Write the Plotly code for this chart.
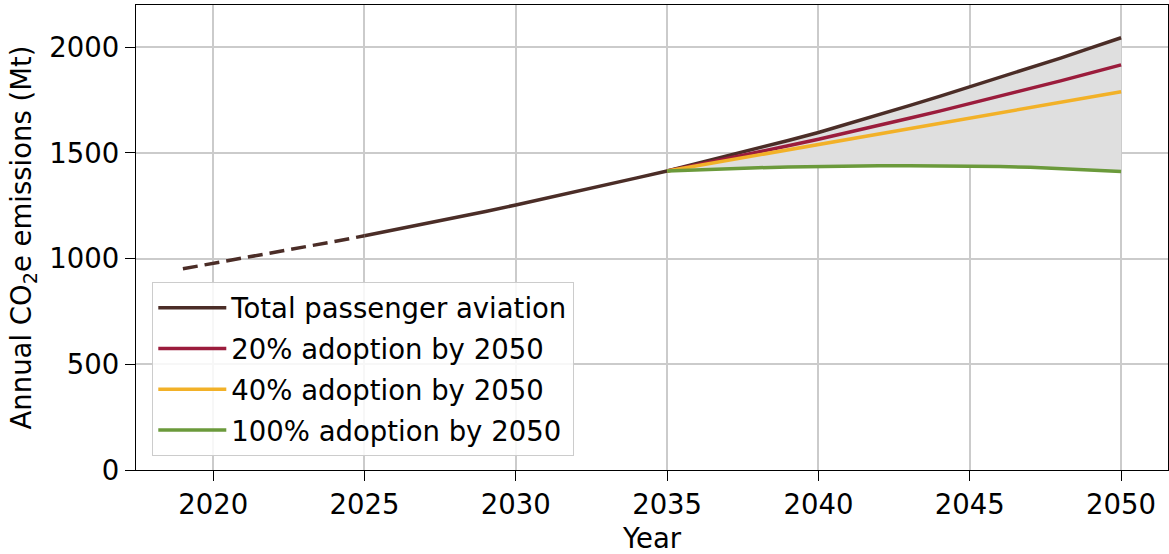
import plotly.graph_objects as go

# ---- data ----
hist_years = [2019, 2020, 2021, 2022, 2023, 2024, 2025]
hist_total = [952, 977, 1002, 1028, 1054, 1081, 1108]

proj_years = list(range(2025, 2051))
proj_total = [1108, 1136, 1164, 1193, 1223, 1254, 1285, 1317, 1349, 1382,
              1415, 1450, 1486, 1522, 1559, 1597, 1638, 1680, 1724, 1768,
              1813, 1857, 1902, 1949, 1997, 2045]

scen_years = list(range(2035, 2051))
adopt20 = [1415, 1444, 1473, 1503, 1534, 1565, 1597, 1630, 1664, 1698,
           1733, 1768, 1804, 1841, 1879, 1917]
adopt40 = [1415, 1440, 1465, 1490, 1515, 1540, 1565, 1590, 1615, 1640,
           1665, 1690, 1715, 1740, 1765, 1790]
adopt100 = [1415, 1421, 1426, 1430, 1433, 1436, 1438, 1439, 1440, 1440,
            1439, 1436, 1432, 1426, 1420, 1412]

labels = ["Total passenger aviation", "20% adoption by 2050",
          "40% adoption by 2050", "100% adoption by 2050"]
colors = ["#4b2d27", "#9b1c3c", "#f2b128", "#6b9a3b"]
x_ticks = [2020, 2025, 2030, 2035, 2040, 2045, 2050]
y_ticks = [0, 500, 1000, 1500, 2000]

FONT = "DejaVu Sans"
FS = 27.5
LW = 3.5

fig = go.Figure()

# shaded band between total and 100% adoption
total_tail = proj_total[proj_years.index(2035):]
fig.add_trace(go.Scatter(x=scen_years, y=adopt100, mode="lines",
                         line=dict(width=0, color="rgba(0,0,0,0)"),
                         showlegend=False, hoverinfo="skip"))
fig.add_trace(go.Scatter(x=scen_years, y=total_tail, mode="lines",
                         line=dict(width=0, color="rgba(0,0,0,0)"),
                         fill="tonexty", fillcolor="#dfdfdf",
                         showlegend=False, hoverinfo="skip"))

# dashed history
fig.add_trace(go.Scatter(x=hist_years, y=hist_total, mode="lines",
                         line=dict(color=colors[0], width=LW, dash="15px,7px"),
                         showlegend=False))

series = [(proj_years, proj_total), (scen_years, adopt20),
          (scen_years, adopt40), (scen_years, adopt100)]
for i, ((xs, ys), lab, col) in enumerate(zip(series, labels, colors)):
    fig.add_trace(go.Scatter(x=xs, y=ys, mode="lines", name=lab,
                             line=dict(color=col, width=LW),
                             legendgroup=f"g{i}"))

axis_common = dict(
    showline=True, linecolor="black", linewidth=1.3, mirror=True,
    ticks="outside", ticklen=10, tickwidth=1.3, tickcolor="black",
    showgrid=True, gridcolor="#cbcbcb", gridwidth=1.5,
    zeroline=False,
    tickfont=dict(family=FONT, size=FS, color="black"),
)

fig.update_xaxes(range=[2017.45, 2051.55], tickvals=x_ticks,
                 title=dict(text="Year", font=dict(family=FONT, size=FS, color="black"),
                            standoff=11),
                 **axis_common)
fig.update_yaxes(range=[0, 2200], tickvals=y_ticks,
                 title=dict(text="Annual CO<sub>2</sub>e emissions (Mt)",
                            font=dict(family=FONT, size=FS, color="black"),
                            standoff=9),
                 **axis_common)

fig.update_layout(
    width=1169, height=554,
    margin=dict(l=136, r=1, t=5, b=84),
    plot_bgcolor="white", paper_bgcolor="white",
    font=dict(family=FONT, size=FS, color="black"),
    legend=dict(x=0.0155, y=0.03, xanchor="left", yanchor="bottom",
                bgcolor="rgba(255,255,255,0.85)", bordercolor="#cccccc",
                borderwidth=1.3, font=dict(family=FONT, size=FS, color="black"),
                tracegroupgap=2, traceorder="grouped", itemwidth=68),
    showlegend=True,
)

fig.write_html("out.html")
